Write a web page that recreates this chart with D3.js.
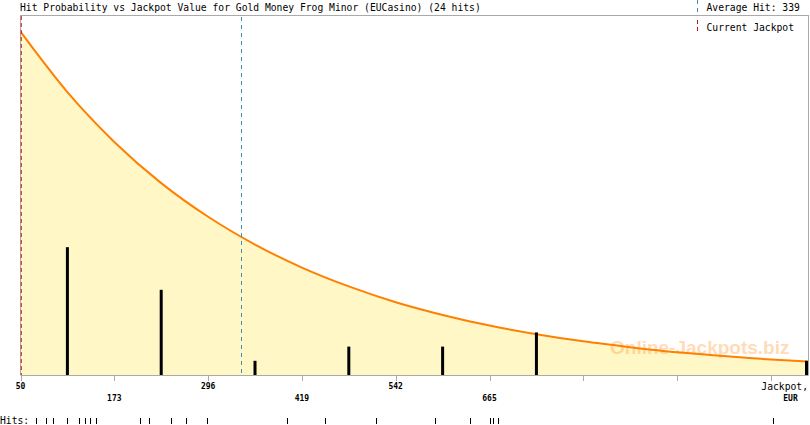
<!DOCTYPE html>
<html>
<head>
<meta charset="UTF-8">
<title>Hit Probability vs Jackpot Value</title>
<script src="https://cdn.jsdelivr.net/npm/d3@7"></script>
<style>
  body { margin: 0; background: #fff; }
  text { font-family: "DejaVu Sans Mono", monospace; fill: #000; }
</style>
</head>
<body>
<svg width="810" height="425"></svg>
<script>
// values
var titleText = "Hit Probability vs Jackpot Value for Gold Money Frog Minor (EUCasino) (24 hits)";

// hit probability curve (relative), sampled along the jackpot axis
var curveJackpot = [50, 111.5, 173, 234.5, 296, 357.5, 419, 480.5, 542, 603.5,
                    665, 726.5, 788, 849.5, 911, 972.5, 1034, 1082];
var curveProb    = [1.000, 0.824, 0.679, 0.559, 0.461, 0.380, 0.313, 0.258, 0.212, 0.175,
                    0.144, 0.119, 0.098, 0.081, 0.066, 0.055, 0.045, 0.039];

// jackpot values at which the 24 hits happened
var hits = [70, 84, 92, 92, 111, 127, 135, 141, 149,
            207, 218, 247, 247, 267, 295,
            399,
            449, 516,
            593, 640,
            666, 669, 676,
            1037];

var tickValues = [50, 173, 296, 419, 542, 665, 788, 911, 1034];
var tickLabels = ["50", "173", "296", "419", "542", "665", "", "", ""];
var currentJackpot = 51;

var svg = d3.select("svg");
var plot = {left: 20.5, right: 808, top: 15, bottom: 375};
var fs = "9.7px";

var x = d3.scaleLinear().domain([50, 1082.6]).range([plot.left, plot.right]);
var yProb = d3.scaleLinear().domain([0, 1.0487]).range([plot.bottom, plot.top]);
var yCount = d3.scaleLinear().domain([0, 25.35]).range([plot.bottom, plot.top]);

var curveData = curveJackpot.map(function(v, i){ return {v: v, p: curveProb[i]}; });

// yellow area under the curve
var area = d3.area()
  .x(function(d){ return x(d.v); })
  .y0(plot.bottom)
  .y1(function(d){ return yProb(d.p); })
  .curve(d3.curveMonotoneX);
svg.append("path").datum(curveData)
  .attr("d", area)
  .attr("fill", "#fff7c6");

// watermark
svg.append("text")
  .attr("x", 610).attr("y", 354)
  .style("font-family", "'Liberation Sans', Arial, sans-serif")
  .style("font-weight", "bold")
  .style("font-size", "19px")
  .style("fill", "#ff9933")
  .style("opacity", 0.35)
  .text("Online-Jackpots.biz");

// orange curve
var line = d3.line()
  .x(function(d){ return x(d.v); })
  .y(function(d){ return yProb(d.p); })
  .curve(d3.curveMonotoneX);
svg.append("path").datum(curveData)
  .attr("d", line)
  .attr("fill", "none")
  .attr("stroke", "#ff8000")
  .attr("stroke-width", 2);

// frame
var frame = svg.append("g").attr("stroke", "#aaa").attr("stroke-width", 1);
frame.append("line").attr("x1", plot.left).attr("x2", plot.right + 0.5).attr("y1", 15.5).attr("y2", 15.5);
frame.append("line").attr("x1", plot.left).attr("x2", plot.left).attr("y1", 15).attr("y2", plot.bottom);
frame.append("line").attr("x1", plot.right + 0.5).attr("x2", plot.right + 0.5).attr("y1", 15).attr("y2", plot.bottom);

// current jackpot + average hit lines
var avgHit = Math.round(d3.mean(hits));
svg.append("line")
  .attr("x1", x(currentJackpot)).attr("x2", x(currentJackpot))
  .attr("y1", 16).attr("y2", plot.bottom)
  .attr("stroke", "#b81818").attr("stroke-dasharray", "4,3");
svg.append("line")
  .attr("x1", Math.round(x(avgHit)) + 0.5).attr("x2", Math.round(x(avgHit)) + 0.5)
  .attr("y1", 17).attr("y2", plot.bottom)
  .attr("stroke", "#3b8db5").attr("stroke-dasharray", "4,4");

// histogram of hits per axis interval
var bins = d3.bin()
  .domain([50, 1157])
  .thresholds(tickValues.slice(1))(hits)
  .filter(function(b){ return b.length > 0; });
svg.append("g").selectAll("rect")
  .data(bins)
  .enter()
  .append("rect")
  .attr("x", function(d){
    var cx = Math.min(x((d.x0 + d.x1) / 2), plot.right - 1.5);
    return cx - 1.5;
  })
  .attr("width", 3)
  .attr("y", function(d){ return yCount(d.length); })
  .attr("height", function(d){ return plot.bottom - yCount(d.length); })
  .attr("fill", "#000");

// x axis
var axis = svg.append("g");
axis.append("line")
  .attr("x1", plot.left).attr("x2", plot.right + 0.5)
  .attr("y1", plot.bottom + 0.5).attr("y2", plot.bottom + 0.5)
  .attr("stroke", "#aaa");
axis.selectAll("line.tick")
  .data(tickValues)
  .enter()
  .append("line")
  .attr("class", "tick")
  .attr("x1", function(d){ return Math.round(x(d)) + 0.5; })
  .attr("x2", function(d){ return Math.round(x(d)) + 0.5; })
  .attr("y1", plot.bottom).attr("y2", plot.bottom + 6)
  .attr("stroke", "#aaa");
axis.selectAll("text.tl")
  .data(tickValues)
  .enter()
  .append("text")
  .attr("class", "tl")
  .attr("x", function(d){ return x(d); })
  .attr("y", function(d, i){ return i % 2 == 0 ? 389 : 401; })
  .attr("text-anchor", "middle")
  .style("font-size", "8px")
  .style("font-weight", "bold")
  .text(function(d, i){ return tickLabels[i]; });
axis.append("text")
  .attr("x", 808).attr("y", 389.5)
  .attr("text-anchor", "end")
  .style("font-size", fs)
  .text("Jackpot,");
axis.append("text")
  .attr("x", 790.5).attr("y", 401)
  .attr("text-anchor", "middle")
  .style("font-size", "8px")
  .style("font-weight", "bold")
  .text("EUR");

// hits row
svg.append("text")
  .attr("x", 0).attr("y", 423.5)
  .style("font-size", fs)
  .text("Hits:");
svg.append("g").selectAll("line")
  .data(hits)
  .enter()
  .append("line")
  .attr("x1", function(d){ return Math.round(x(d)) + 0.5; })
  .attr("x2", function(d){ return Math.round(x(d)) + 0.5; })
  .attr("y1", 418).attr("y2", 424)
  .attr("stroke", "#000");

// title and legend
svg.append("text")
  .attr("x", 20).attr("y", 10.5)
  .style("font-size", fs)
  .text(titleText);
svg.append("line")
  .attr("x1", 697.5).attr("x2", 697.5).attr("y1", 0).attr("y2", 12)
  .attr("stroke", "#3b8db5").attr("stroke-dasharray", "4,4");
svg.append("text")
  .attr("x", 706.5).attr("y", 10.5)
  .style("font-size", fs)
  .text("Average Hit: " + avgHit);
svg.append("line")
  .attr("x1", 697.5).attr("x2", 697.5).attr("y1", 20).attr("y2", 34)
  .attr("stroke", "#b81818").attr("stroke-dasharray", "4,3");
svg.append("text")
  .attr("x", 706.5).attr("y", 31)
  .style("font-size", fs)
  .text("Current Jackpot");
</script>
</body>
</html>
